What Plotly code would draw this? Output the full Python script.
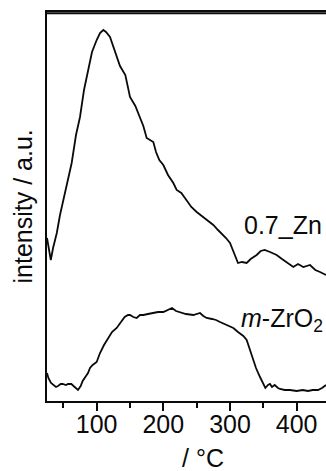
import plotly.graph_objects as go

# 0.7_Zn curve (temperature in °C, intensity in a.u.)
zn_T = [25.5, 27.6, 31.2, 34.6, 40.2, 45, 50, 55.1, 62.5, 69, 75, 81, 87, 93, 100, 105, 110, 114,
        120, 125, 130, 135, 143, 147, 150, 158, 165, 170, 175, 180, 185, 189, 194, 200, 207, 215,
        220, 227, 234, 242, 250, 260, 267, 275, 282, 287, 294, 300, 306, 312, 318, 325, 331, 340,
        346, 352, 360, 370, 378, 387, 395, 402, 410, 420, 428, 435, 444]
zn_I = [163, 156, 141, 153, 168, 186, 201, 218, 238, 266, 284, 311, 331, 349, 361, 368, 371, 369,
        364, 355, 344, 335, 326, 315, 304, 295, 284, 275, 263, 261, 259, 249, 241, 236, 226, 218,
        211, 208, 201, 194, 189, 184, 180, 176, 171, 168, 163, 158, 148, 138, 139, 138, 142, 146,
        150, 151, 149, 146, 142, 138, 134, 137, 134, 136, 131, 129, 126]

# m-ZrO2 curve
zr_T = [25.5, 27.6, 31.5, 35, 39, 42, 46, 49, 54, 57, 62, 67, 72, 76, 79, 84, 87, 90, 94, 100,
        105, 111, 117, 123, 130, 135, 142, 147, 150, 155, 160, 165, 170, 177, 185, 192, 200, 207,
        213, 219, 225, 234, 245, 251, 255, 260, 265, 273, 279, 285, 294, 305, 312, 320, 325, 329,
        335, 339, 345, 350, 353, 357, 360, 363, 367, 372, 375, 382, 390, 400, 409, 417, 424, 432,
        438, 444]
zr_I = [28, 23, 18, 16, 14, 15, 17, 17, 16, 17, 17, 14, 11, 15, 20, 25, 28, 33, 36, 39,
        48, 56, 63, 69, 73, 78, 84, 86, 86, 84, 83, 86, 86, 87, 88, 89, 89, 91,
        93, 90, 89, 87, 86, 87, 88, 85, 83, 82, 81, 79, 76, 73, 69, 65, 61, 53,
        41, 33, 24, 17, 13, 16, 17, 14, 16, 13, 12, 11, 11, 10, 11, 10, 11, 11,
        13, 16]

x_ticks = [100, 200, 300, 400]
x_ticklabels = ["100", "200", "300", "400"]
x_minor_ticks = [50, 150, 250, 350]

FONT = "Liberation Sans, Arial, sans-serif"
INK = "#0a0a0a"
FS = 25

fig = go.Figure()
fig.add_trace(go.Scatter(x=zn_T, y=zn_I, mode="lines",
                         line=dict(color=INK, width=1.8), showlegend=False))
fig.add_trace(go.Scatter(x=zr_T, y=zr_I, mode="lines",
                         line=dict(color=INK, width=1.8), showlegend=False))

fig.update_layout(
    width=326, height=471,
    margin=dict(l=47, r=0, t=12, b=70),
    paper_bgcolor="white", plot_bgcolor="white",
    font=dict(family=FONT, size=FS, color=INK),
    xaxis=dict(range=[25.5, 444], showline=True, linecolor=INK, linewidth=2,
               mirror=True, ticks="outside", ticklen=8, tickwidth=2, tickcolor=INK,
               tickvals=x_ticks, ticktext=x_ticklabels, showgrid=False, zeroline=False,
               ticklabelstandoff=-8,
               minor=dict(ticks="outside", ticklen=5, tickwidth=2, tickcolor=INK,
                          tickvals=x_minor_ticks, showgrid=False)),
    yaxis=dict(range=[0, 389], showline=True, linecolor=INK, linewidth=2,
               mirror=False, ticks="", showticklabels=False, showgrid=False, zeroline=False),
    shapes=[dict(type="line", xref="paper", yref="paper", x0=0, x1=1, y0=0.997, y1=0.997,
                 layer="above", line=dict(color=INK, width=2))],
    annotations=[
        dict(text="0.7_Zn", x=317.5, y=176, xref="x", yref="y", xanchor="left",
             yanchor="middle", showarrow=False),
        dict(text="<i>m</i>-ZrO<sub>2</sub>", x=314, y=81, xref="x", yref="y",
             xanchor="left", yanchor="middle", showarrow=False),
        dict(text="intensity / a.u.", x=0, y=0.5, xref="paper", yref="paper",
             xanchor="center", yanchor="middle", xshift=-25, textangle=-90,
             showarrow=False),
        dict(text="/ °C", x=(203 - 47) / 279, y=0, xref="paper", yref="paper",
             xanchor="center", yanchor="middle", yshift=-57, showarrow=False),
    ],
)

fig.write_html("out.html")
